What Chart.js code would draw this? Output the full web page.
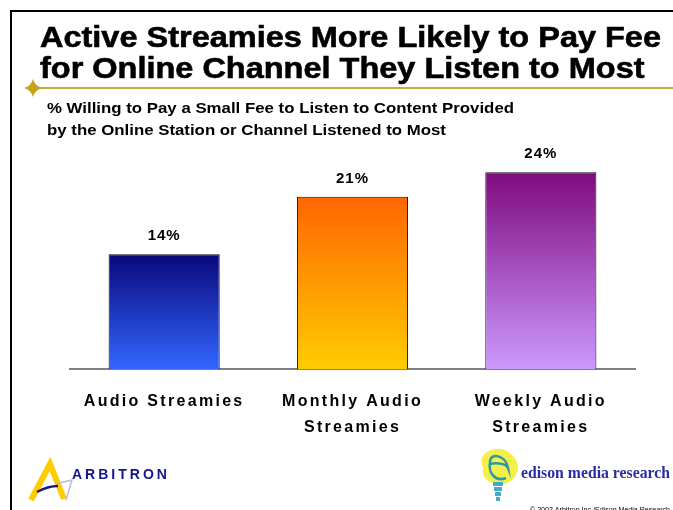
<!DOCTYPE html>
<html>
<head>
<meta charset="utf-8">
<script src="https://cdn.jsdelivr.net/npm/chart.js@4/dist/chart.umd.min.js"></script>
<style>
  html, body { margin: 0; padding: 0; background: #fff; }
  #wrap { width: 673px; height: 510px; }
</style>
</head>
<body>
<div id="wrap"><canvas id="myChart" width="673" height="510"></canvas></div>
<script>
// data
const categories = [['Audio Streamies'], ['Monthly Audio', 'Streamies'], ['Weekly Audio', 'Streamies']];
const percentages = [14, 21, 24];
const titleLines = ['Active Streamies More Likely to Pay Fee', 'for Online Channel They Listen to Most'];
const subtitleLines = ['% Willing to Pay a Small Fee to Listen to Content Provided', 'by the Online Station or Channel Listened to Most'];

// top / bottom colour of each bar
const barTops = ['#08087c', '#ff6600', '#7f0a7f'];
const barBottoms = ['#3366ff', '#ffcc00', '#cc99ff'];

const ctx = document.getElementById('myChart');

function barGradient(context) {
    const chart = context.chart;
    const y = chart.scales.y;
    if (!chart.chartArea || !y) return barBottoms[context.dataIndex];
    const i = context.dataIndex;
    const top = y.getPixelForValue(percentages[i]);
    const bottom = y.getPixelForValue(0);
    const g = chart.ctx.createLinearGradient(0, top, 0, bottom);
    g.addColorStop(0, barTops[i]);
    g.addColorStop(1, barBottoms[i]);
    return g;
}

// draws text squeezed/stretched horizontally so the first line gets the given width
function fitLines(c, lines, x, y0, lineGap, width, heavy) {
    const sx = width / c.measureText(lines[0]).width;
    lines.forEach((t, k) => {
        c.save();
        c.translate(x, y0 + k * lineGap);
        c.scale(sx, 1);
        c.fillText(t, 0, 0);
        if (heavy) {
            c.lineWidth = heavy;
            c.strokeStyle = c.fillStyle;
            c.strokeText(t, 0, 0);
        }
        c.restore();
    });
}

// slide frame, heading, logos
const slideDecor = {
    id: 'slideDecor',
    beforeDraw(chart) {
        const c = chart.ctx;
        c.save();
        c.fillStyle = '#fff';
        c.fillRect(0, 0, chart.width, chart.height);

        // black frame top and left
        c.fillStyle = '#000';
        c.fillRect(10, 10, chart.width - 10, 2);
        c.fillRect(10, 10, 2, chart.height - 10);

        // gold rule with the little star
        c.fillStyle = '#c9ad3a';
        c.fillRect(33, 87, chart.width - 33, 2);
        c.fillStyle = '#c8a21a';
        c.beginPath();
        const sx = 33, sy = 88;
        c.moveTo(sx, sy - 9);
        c.quadraticCurveTo(sx + 2, sy - 2, sx + 9, sy);
        c.quadraticCurveTo(sx + 2, sy + 2, sx, sy + 9);
        c.quadraticCurveTo(sx - 2, sy + 2, sx - 9, sy);
        c.quadraticCurveTo(sx - 2, sy - 2, sx, sy - 9);
        c.fill();

        // heading
        c.fillStyle = '#000';
        c.textBaseline = 'alphabetic';
        c.textAlign = 'left';
        c.font = 'bold 29px "Liberation Sans", Arial, sans-serif';
        fitLines(c, titleLines, 40, 47, 31, 621, 0.6);

        c.font = 'bold 15px "Liberation Sans", Arial, sans-serif';
        fitLines(c, subtitleLines, 47, 113, 22, 467);

        drawArbitron(c);
        drawEdison(c);
        c.restore();
    },
    afterDatasetsDraw(chart) {
        const c = chart.ctx;
        const meta = chart.getDatasetMeta(0);
        const x = chart.scales.x;
        const y = chart.scales.y;
        c.save();
        c.fillStyle = '#000';
        c.textAlign = 'center';
        c.textBaseline = 'alphabetic';
        c.font = 'bold 15px "Liberation Sans", Arial, sans-serif';
        c.letterSpacing = '1px';
        meta.data.forEach((bar, i) => {
            c.fillText(percentages[i] + '%', bar.x, y.getPixelForValue(percentages[i]) - 14);
        });
        // category names under the axis
        c.font = 'bold 16px "Liberation Sans", Arial, sans-serif';
        c.letterSpacing = '2.3px';
        categories.forEach((lines, i) => {
            const cx = x.getPixelForValue(i);
            lines.forEach((t, k) => {
                c.fillText(t, cx, 406 + k * 26);
            });
        });
        c.restore();
    }
};

function drawArbitron(c) {
    // yellow "A" mark
    c.strokeStyle = '#ffcc00';
    c.lineWidth = 6;
    c.lineJoin = 'miter';
    c.beginPath();
    c.moveTo(31, 500);
    c.lineTo(50, 464);
    c.lineTo(64, 499);
    c.stroke();
    c.strokeStyle = '#b8bcd8';
    c.lineWidth = 1.5;
    c.beginPath();
    c.moveTo(55, 484);
    c.lineTo(72, 480);
    c.lineTo(66, 500);
    c.stroke();
    c.strokeStyle = '#1a1a80';
    c.lineWidth = 2.5;
    c.beginPath();
    c.moveTo(37, 492);
    c.quadraticCurveTo(48, 486, 58, 486);
    c.stroke();

    c.fillStyle = '#15158a';
    c.font = 'bold 14px "Liberation Sans", Arial, sans-serif';
    c.letterSpacing = '3px';
    c.textAlign = 'left';
    c.fillText('ARBITRON', 72, 479);
    c.letterSpacing = '0px';
}

function drawEdison(c) {
    // yellow splash behind the bulb
    c.fillStyle = '#f4ef4a';
    c.beginPath();
    c.moveTo(487, 452);
    c.bezierCurveTo(500, 444, 512, 452, 516, 460);
    c.bezierCurveTo(522, 470, 514, 482, 504, 484);
    c.bezierCurveTo(492, 486, 480, 478, 483, 468);
    c.bezierCurveTo(480, 460, 482, 455, 487, 452);
    c.fill();
    // teal "e" bulb outline
    c.strokeStyle = '#2a9aa8';
    c.lineWidth = 2.5;
    c.beginPath();
    c.moveTo(489, 465);
    c.bezierCurveTo(493, 462, 506, 463, 508, 468);
    c.bezierCurveTo(506, 455, 490, 452, 490, 462);
    c.bezierCurveTo(488, 474, 496, 482, 506, 478);
    c.stroke();
    c.fillStyle = '#45a9c8';
    c.fillRect(493, 482, 10, 4);
    c.fillRect(494, 487, 8, 4);
    c.fillRect(495, 492, 6, 4);
    c.fillRect(496, 497, 4, 4);

    c.fillStyle = '#2b2ba8';
    c.font = 'bold 17px "Liberation Serif", "Times New Roman", serif';
    c.textAlign = 'left';
    fitLines(c, ['edison media research'], 521, 478, 0, 149);

    c.fillStyle = '#000';
    c.font = '7px "Liberation Sans", Arial, sans-serif';
    fitLines(c, ['© 2002 Arbitron Inc./Edison Media Research'], 530, 512, 0, 140);
}

const myChart = new Chart(ctx, {
    type: 'bar',
    data: {
        labels: categories,
        datasets: [{
            data: percentages,
            backgroundColor: barGradient,
            borderColor: '#111',
            borderWidth: 1,
            borderSkipped: 'bottom',
            categoryPercentage: 1,
            barPercentage: 0.59
        }]
    },
    options: {
        responsive: false,
        animation: false,
        layout: {
            padding: { left: 70, right: 38, top: 123, bottom: 133 }
        },
        plugins: {
            legend: { display: false },
            tooltip: { enabled: false }
        },
        scales: {
            x: {
                grid: { display: false },
                border: { display: true, color: '#808080', width: 2 },
                ticks: { display: false }
            },
            y: {
                display: false,
                min: 0,
                max: 30
            }
        }
    },
    plugins: [slideDecor]
});
</script>
</body>
</html>
